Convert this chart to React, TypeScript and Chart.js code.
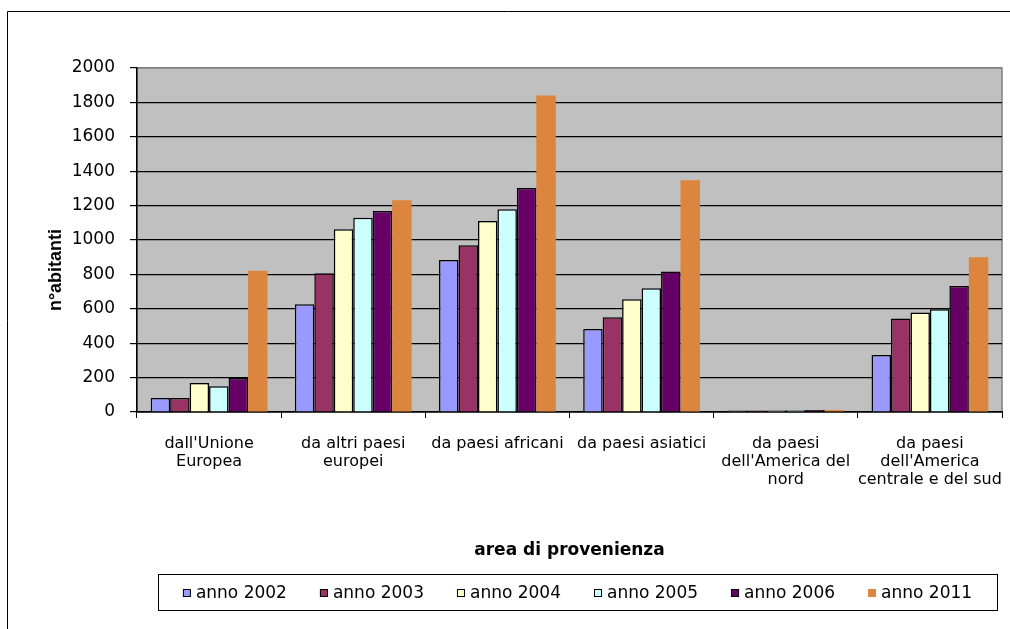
import React, { useEffect, useRef } from "react";
import { Chart, registerables } from "chart.js";

Chart.register(...registerables);

const categories: string[][] = [
  ["dall'Unione", "Europea"],
  ["da altri paesi", "europei"],
  ["da paesi africani"],
  ["da paesi asiatici"],
  ["da paesi", "dell'America del", "nord"],
  ["da paesi", "dell'America", "centrale e del sud"],
];

const seriesNames = ["anno 2002", "anno 2003", "anno 2004", "anno 2005", "anno 2006", "anno 2011"];
const anno2002 = [81, 626, 883, 483, 8, 332];
const anno2003 = [81, 806, 970, 551, 9, 543];
const anno2004 = [168, 1063, 1111, 655, 9, 578];
const anno2005 = [149, 1130, 1179, 719, 10, 597];
const anno2006 = [197, 1169, 1302, 817, 11, 732];
const anno2011 = [821, 1231, 1840, 1347, 12, 899];
const seriesValues = [anno2002, anno2003, anno2004, anno2005, anno2006, anno2011];
const seriesColors = ["#9999FF", "#993366", "#FFFFCC", "#CCFFFF", "#660066", "#DC853E"];
const seriesBorders = [1.5, 1.5, 1.5, 1.5, 1.5, 0];

const yTitle = "n°abitanti";
const xTitle = "area di provenienza";
const yMin = 0;
const yMax = 2000;
const yStep = 200;

const FONT = "'DejaVu Sans', sans-serif";

export default function App() {
  const ref = useRef<HTMLCanvasElement | null>(null);

  useEffect(() => {
    const canvas = ref.current;
    if (!canvas) return;

    const decor = {
      id: "decor",
      beforeDraw(chart: any) {
        const ctx = chart.ctx;
        const a = chart.chartArea;
        ctx.save();
        ctx.fillStyle = "#ffffff";
        ctx.fillRect(0, 0, chart.width, chart.height);
        // outer frame
        ctx.strokeStyle = "#000000";
        ctx.lineWidth = 1;
        ctx.beginPath();
        ctx.moveTo(7.5, chart.height);
        ctx.lineTo(7.5, 11.5);
        ctx.lineTo(chart.width, 11.5);
        ctx.stroke();
        // plot background
        ctx.fillStyle = "#C0C0C0";
        ctx.fillRect(a.left, a.top, a.right - a.left, a.bottom - a.top);
        ctx.strokeStyle = "#808080";
        ctx.lineWidth = 1.5;
        ctx.strokeRect(a.left, a.top, a.right - a.left, a.bottom - a.top);
        ctx.restore();
      },
      afterDraw(chart: any) {
        const ctx = chart.ctx;
        const a = chart.chartArea;
        ctx.save();
        // y title
        ctx.fillStyle = "#000000";
        ctx.font = "bold 18px 'Liberation Sans', Arial, sans-serif";
        ctx.textAlign = "center";
        ctx.textBaseline = "middle";
        ctx.translate(56, 270);
        ctx.rotate(-Math.PI / 2);
        ctx.fillText(yTitle, 0, 0);
        ctx.restore();

        ctx.save();
        ctx.fillStyle = "#000000";
        ctx.font = "bold 17px " + FONT;
        ctx.textAlign = "center";
        ctx.textBaseline = "middle";
        ctx.fillText(xTitle, (a.left + a.right) / 2, 551);
        ctx.restore();

        // legend
        ctx.save();
        const boxL = 158, boxT = 574, boxR = 997, boxB = 610;
        ctx.strokeStyle = "#000000";
        ctx.lineWidth = 1;
        ctx.strokeRect(boxL + 0.5, boxT + 0.5, boxR - boxL, boxB - boxT);
        ctx.font = "17px " + FONT;
        ctx.textBaseline = "middle";
        ctx.textAlign = "left";
        const marker = 8;
        const gap = 5;
        const spacing = 33;
        const widths = seriesNames.map((n) => marker + gap + ctx.measureText(n).width);
        const total = widths.reduce((s, w) => s + w, 0) + spacing * (widths.length - 1);
        let x = (boxL + boxR) / 2 - total / 2;
        const cy = 593;
        seriesNames.forEach((n, i) => {
          ctx.fillStyle = seriesColors[i];
          ctx.fillRect(x, cy - marker / 2, marker, marker);
          if (seriesBorders[i]) {
            ctx.strokeStyle = "#000000";
            ctx.lineWidth = 1;
            ctx.strokeRect(x + 0.5, cy - marker / 2 + 0.5, marker - 1, marker - 1);
          }
          ctx.fillStyle = "#000000";
          ctx.fillText(n, x + marker + gap, cy + 1);
          x += widths[i] + spacing;
        });
        ctx.restore();
      },
    };

    const chart = new Chart(canvas, {
      type: "bar",
      data: {
        labels: categories,
        datasets: seriesNames.map((name, i) => ({
          label: name,
          data: seriesValues[i],
          backgroundColor: seriesColors[i],
          borderColor: "#000000",
          borderWidth: seriesBorders[i],
          categoryPercentage: 0.81,
          barPercentage: 1.0,
        })),
      },
      options: {
        responsive: false,
        animation: false,
        layout: { padding: { left: 0, top: 68, right: 8, bottom: 0 } },
        plugins: {
          legend: { display: false },
          title: { display: false },
          tooltip: { enabled: false },
        },
        scales: {
          x: {
            offset: true,
            grid: {
              display: true,
              drawOnChartArea: false,
              drawTicks: true,
              tickLength: 6,
              color: "#000000",
              offset: true,
            },
            border: { display: true, color: "#000000", width: 1.5 },
            ticks: {
              color: "#000000",
              font: { family: FONT, size: 16, lineHeight: 1.125 },
              padding: 17,
              maxRotation: 0,
              autoSkip: false,
            },
            afterFit(scale: any) {
              scale.height = 217;
              scale.paddingLeft = 0;
              scale.paddingRight = 0;
            },
          },
          y: {
            min: yMin,
            max: yMax,
            grid: {
              color: (c: any) => (c.tick && c.tick.value === yMax ? "#808080" : "#000000"),
              lineWidth: 1.2,
              drawTicks: true,
              tickLength: 7,
              tickColor: "#000000",
            },
            border: { display: true, color: "#000000", width: 1.5 },
            ticks: {
              stepSize: yStep,
              color: "#000000",
              font: { family: FONT, size: 17 },
              padding: 15,
              callback: (v: any) => String(v),
            },
            afterFit(scale: any) {
              scale.width = 137;
              scale.paddingTop = 0;
              scale.paddingBottom = 0;
            },
          },
        },
      },
      plugins: [decor],
    });

    return () => {
      chart.destroy();
    };
  }, []);

  return (
    <div style={{ position: "fixed", left: 0, top: 0, width: 1010, height: 629, background: "#fff" }}>
      <canvas ref={ref} width={1010} height={629} style={{ display: "block" }} />
    </div>
  );
}
